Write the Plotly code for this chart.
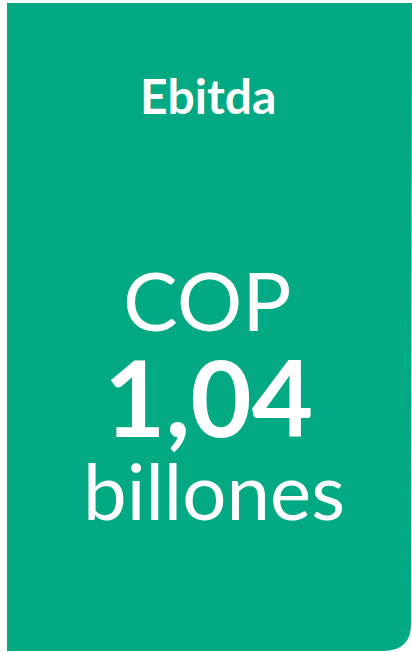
import plotly.graph_objects as go

# card content
labels = ["Ebitda", "COP", "1,04", "billones"]
label_x = [208, 207, 208, 214]
label_y = [95, 299, 396, 490]
label_size = [48, 82, 106, 78]
label_weight = [700, 400, 700, 400]

card_color = "#02A982"
card_left, card_top, card_right, card_bottom, corner = 7, 3, 412, 652, 28

fig = go.Figure()

path = (
    f"M {card_left},{card_bottom - 1} L {card_left},{card_top} L {card_right},{card_top} "
    f"L {card_right - 1},{card_bottom - corner} "
    f"Q {card_right - 1},{card_bottom - 1} {card_right - 1 - corner},{card_bottom - 1} Z"
)
fig.add_shape(type="path", path=path, fillcolor=card_color,
              line=dict(width=0), layer="below")

for text, x, y, size, weight in zip(labels, label_x, label_y, label_size, label_weight):
    fig.add_annotation(
        x=x, y=y, text=text, showarrow=False,
        xanchor="center", yanchor="middle",
        font=dict(family="Lato", size=size, color="white", weight=weight),
    )

fig.update_xaxes(range=[0, 412], visible=False, fixedrange=True)
fig.update_yaxes(range=[652, 0], visible=False, fixedrange=True)
fig.update_layout(
    width=412, height=652,
    margin=dict(l=0, r=0, t=0, b=0),
    paper_bgcolor="white", plot_bgcolor="white",
    showlegend=False,
)

fig.write_html(
    "out.html",
    config={"displayModeBar": False},
    post_script="document.body.style.margin='0';",
)
